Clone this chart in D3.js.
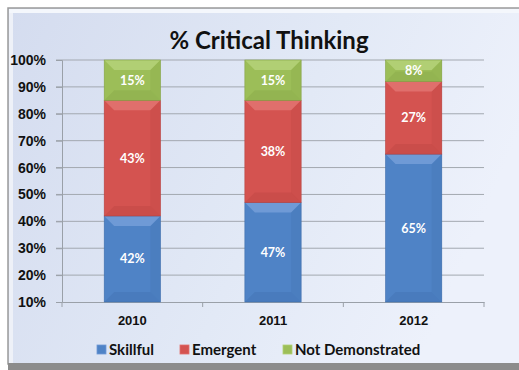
<!DOCTYPE html>
<html><head><meta charset="utf-8">
<script src="https://cdn.jsdelivr.net/npm/d3@7"></script>
<style>body{margin:0;background:#fff;}svg{display:block;font-family:Lato,"Open Sans",sans-serif;}</style>
</head><body>
<svg id="c" width="519" height="370"></svg>
<script>
const title = "% Critical Thinking";
const categories = ["2010", "2011", "2012"];
const seriesNames = ["Skillful", "Emergent", "Not Demonstrated"];
const skillful = [42, 47, 65];
const emergent = [43, 38, 27];
const notDemonstrated = [15, 15, 8];
const yTicks = [10, 20, 30, 40, 50, 60, 70, 80, 90, 100];
const colors = ["#4f83c6", "#d45350", "#9cbe58"];
const lights = ["#6f9ad6", "#e06f6c", "#b1cf74"];
const darks = ["#3f6eac", "#b8423f", "#84a345"];

const svg = d3.select("#c");
const defs = svg.append("defs");
const bg = defs.append("linearGradient").attr("id","bg").attr("x1","0").attr("y1","0").attr("x2","1").attr("y2","0.3");
bg.append("stop").attr("offset","0").attr("stop-color","#d4dcef");
bg.append("stop").attr("offset","0.6").attr("stop-color","#e2e9f6");
bg.append("stop").attr("offset","1").attr("stop-color","#edf1fb");

// frame
svg.append("rect").attr("x",8).attr("y",8).attr("width",520).attr("height",356).attr("fill","url(#bg)").attr("stroke","#9a9a9a").attr("stroke-width",1.5);
svg.append("rect").attr("x",9).attr("y",9).attr("width",4).attr("height",354).attr("fill","#eef1f8");
svg.append("rect").attr("x",9).attr("y",9).attr("width",510).attr("height",4).attr("fill","#f4f7fc");
svg.append("rect").attr("x",8).attr("y",363).attr("width",511).attr("height",7).attr("fill","#8c8c8c");

const x0 = 62, x1 = 484, yTop = 60, yBot = 302;
const y = d3.scaleLinear().domain([10, 100]).range([yBot, yTop]);
const x = d3.scaleBand().domain(categories).range([x0, x1]).paddingInner(0.6).paddingOuter(0.3);

// gridlines
svg.append("g").selectAll("line").data(yTicks.filter(d => d > 10)).join("line")
  .attr("x1", x0 - 6).attr("x2", x1).attr("y1", d => y(d)).attr("y2", d => y(d))
  .attr("stroke", "#a3a8b0").attr("stroke-width", 1);

// y axis
const yAxis = d3.axisLeft(y).tickValues(yTicks).tickFormat(d => d + "%").tickSize(6).tickPadding(10);
const gy = svg.append("g").attr("transform", `translate(${x0},0)`).call(yAxis);
gy.select(".domain").attr("stroke", "#9aa0a8");
gy.selectAll(".tick line").attr("stroke", "#9aa0a8");
gy.selectAll("text").attr("font-size", 14).attr("font-weight", "bold").attr("fill", "#111");

// x axis
const xAxis = d3.axisBottom(x).tickSize(0).tickPadding(14);
const gx = svg.append("g").attr("transform", `translate(0,${yBot})`).call(xAxis);
gx.select(".domain").attr("stroke", "#9aa0a8");
gx.selectAll("text").attr("font-size", 13).attr("font-weight", "bold").attr("fill", "#111");
const step = (x1 - x0) / categories.length;
gx.selectAll(".bnd").data(d3.range(categories.length + 1)).join("line")
  .attr("x1", i => x0 + i * step).attr("x2", i => x0 + i * step).attr("y1", 0).attr("y2", 5)
  .attr("stroke", "#9aa0a8");

// stacked data
const rows = categories.map((c, i) => ({ cat: c, s0: skillful[i], s1: emergent[i], s2: notDemonstrated[i] }));
const stack = d3.stack().keys(["s0", "s1", "s2"])(rows);

const bev = 10;
stack.forEach((layer, si) => {
  const g = svg.append("g");
  layer.forEach((d, i) => {
    const lo = Math.max(d[0], 10), hi = d[1];
    const bx = x(categories[i]), bw = x.bandwidth();
    const yt = y(hi), yb = y(lo), h = yb - yt;
    const b = Math.min(bev, h / 2, bw / 2);
    g.append("rect").attr("x", bx).attr("y", yt).attr("width", bw).attr("height", h).attr("fill", colors[si]);
    g.append("path").attr("d", `M${bx},${yt}L${bx+bw},${yt}L${bx+bw-b},${yt+b}L${bx+b},${yt+b}Z`).attr("fill", lights[si]);
    g.append("path").attr("d", `M${bx+bw},${yt}L${bx+bw-b},${yt+b}L${bx+bw-b},${yb-b}L${bx+bw},${yb}Z`).attr("fill", darks[si]).attr("opacity", 0.25);
    g.append("path").attr("d", `M${bx},${yb}L${bx+bw},${yb}L${bx+bw-b},${yb-b}L${bx+b},${yb-b}Z`).attr("fill", darks[si]).attr("opacity", 0.35);
    g.append("rect").attr("x", bx).attr("y", yt).attr("width", bw).attr("height", h).attr("fill", "none").attr("stroke", darks[si]).attr("stroke-width", 0.6);
    g.append("text").attr("x", bx + bw / 2).attr("y", (yt + yb) / 2 + 4.5)
      .attr("text-anchor", "middle").attr("font-size", 12.5).attr("font-weight", "bold").attr("fill", "#ffffff")
      .text((d[1] - d[0]) + "%");
  });
});

// title
svg.append("text").attr("x", 269).attr("y", 49).attr("text-anchor", "middle")
  .attr("font-size", 24).attr("font-weight", "bold").attr("fill", "#111").text(title);

// legend
const legX = [97, 180, 283];
const lg = svg.append("g");
seriesNames.forEach((n, i) => {
  lg.append("rect").attr("x", legX[i]).attr("y", 345).attr("width", 9).attr("height", 9).attr("fill", colors[i]).attr("stroke", lights[i]).attr("stroke-width", 0.8);
  lg.append("text").attr("x", legX[i] + 12).attr("y", 355).attr("font-size", 15).attr("font-weight", "bold").attr("fill", "#111").text(n);
});
</script>
</body></html>
